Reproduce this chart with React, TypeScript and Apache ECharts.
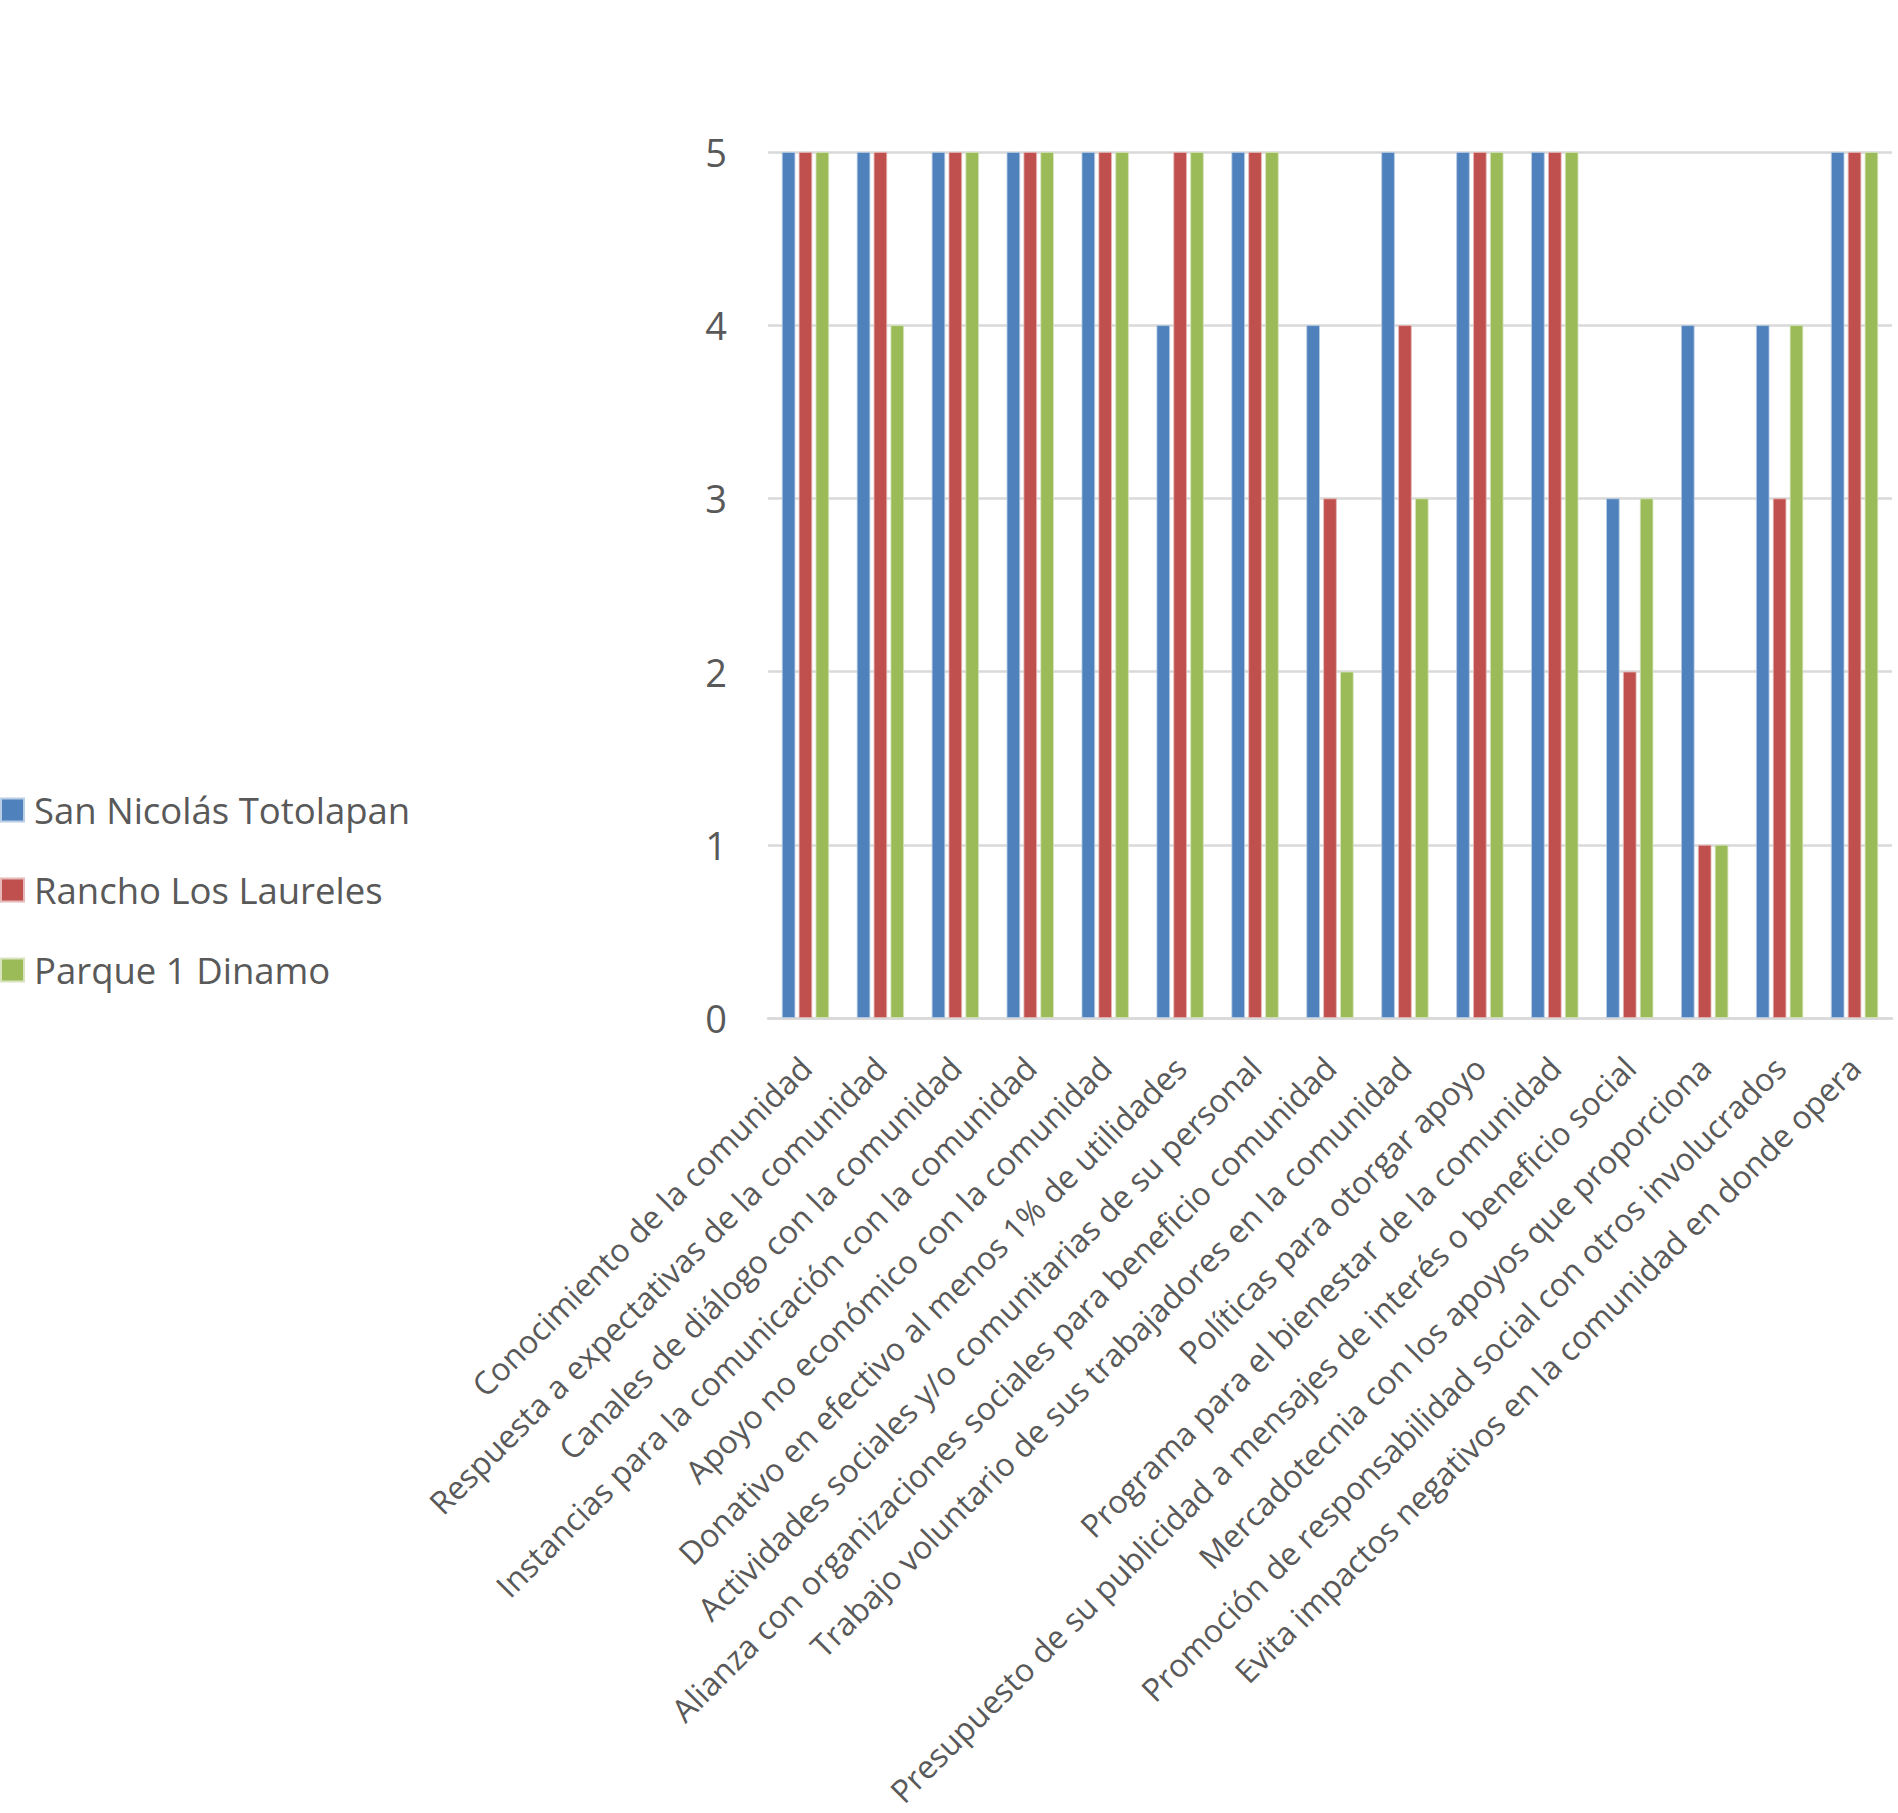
import React, { useEffect, useRef } from "react";
import * as echarts from "echarts";

const categories = [
  "Conocimiento de la comunidad",
  "Respuesta a expectativas de la comunidad",
  "Canales de diálogo con la comunidad",
  "Instancias para la comunicación con la comunidad",
  "Apoyo no económico con la comunidad",
  "Donativo en efectivo al menos 1% de utilidades",
  "Actividades sociales y/o comunitarias de su personal",
  "Alianza con organizaciones sociales para beneficio comunidad",
  "Trabajo voluntario de sus trabajadores en la comunidad",
  "Políticas para otorgar apoyo",
  "Programa para el bienestar de la comunidad",
  "Presupuesto de su publicidad a mensajes de interés o beneficio social",
  "Mercadotecnia con los apoyos que proporciona",
  "Promoción de responsabilidad social con otros involucrados",
  "Evita impactos negativos en la comunidad en donde opera",
];

const sanNicolas = [5, 5, 5, 5, 5, 4, 5, 4, 5, 5, 5, 3, 4, 4, 5];
const ranchoLaureles = [5, 5, 5, 5, 5, 5, 5, 3, 4, 5, 5, 2, 1, 3, 5];
const parqueDinamo = [5, 4, 5, 5, 5, 5, 5, 2, 3, 5, 5, 3, 1, 4, 5];

const seriesNames = ["San Nicolás Totolapan", "Rancho Los Laureles", "Parque 1 Dinamo"];
const seriesColors = ["#4F81BD", "#C0504D", "#9BBB59"];
const borderColors = ["#b9cde5", "#e6b9b8", "#d7e4bd"];

const FONT = "'Open Sans', sans-serif";

export default function App() {
  const ref = useRef<HTMLDivElement>(null);
  useEffect(() => {
    if (!ref.current) return;
    const chart = echarts.init(ref.current, null, { renderer: "svg" });
    const data = [sanNicolas, ranchoLaureles, parqueDinamo];
    chart.setOption({
      animation: false,
      backgroundColor: "#ffffff",
      textStyle: { fontFamily: FONT },
      legend: {
        orient: "vertical",
        left: 0,
        top: 790,
        padding: 0,
        itemWidth: 23,
        itemHeight: 23,
        itemGap: 40,
        icon: "rect",
        textStyle: { fontFamily: FONT, fontSize: 36.5, color: "#595959", lineHeight: 40, padding: [0, 0, 0, 5] },
        data: seriesNames,
      },
      grid: {
        left: 768,
        right: 6,
        top: 152,
        bottom: 795,
        containLabel: false,
        outerBoundsMode: "none",
      },
      xAxis: {
        type: "category",
        data: categories,
        axisLine: { lineStyle: { color: "#d9d9d9", width: 2.5 } },
        axisTick: { show: false },
        axisLabel: {
          interval: 0,
          rotate: 45,
          margin: 44,
          fontFamily: FONT,
          fontSize: 32,
          color: "#595959",
        },
      },
      yAxis: {
        type: "value",
        min: 0,
        max: 5,
        interval: 1,
        axisLine: { show: false },
        axisTick: { show: false },
        splitLine: { lineStyle: { color: "#d9d9d9", width: 2.5 } },
        axisLabel: { margin: 41, fontFamily: FONT, fontSize: 38, color: "#595959" },
      },
      series: seriesNames.map((name, i) => ({
        name,
        type: "bar",
        data: data[i],
        barWidth: 13.5,
        barGap: "25%",
        itemStyle: { color: seriesColors[i], borderColor: borderColors[i], borderWidth: 0.8 },
      })),
    });
    return () => chart.dispose();
  }, []);
  return (
    <div
      ref={ref}
      style={{ position: "absolute", left: 0, top: 0, width: 1898, height: 1813 }}
    />
  );
}
